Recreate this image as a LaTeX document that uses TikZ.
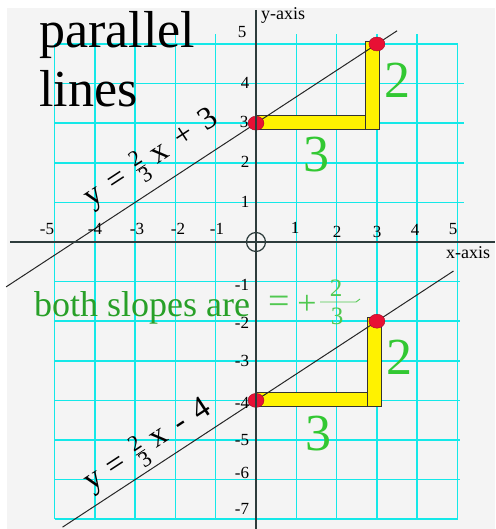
\documentclass[tikz,border=0pt]{standalone}
\usepackage{amsmath}
\usepackage{fontspec}
\setmainfont{Liberation Serif}
\usetikzlibrary{shapes.geometric}
\definecolor{bgray}{RGB}{244,244,244}
\definecolor{gridc}{RGB}{20,232,232}
\definecolor{axisc}{RGB}{45,60,60}
\definecolor{dotred}{RGB}{232,16,52}
\definecolor{slopegreen}{RGB}{40,160,40}
\definecolor{lightgreen}{RGB}{80,200,80}
\definecolor{biggreen}{RGB}{50,200,50}
\newcommand{\fs}[1]{\fontsize{#1}{#1}\selectfont}
\newcommand{\myfrac}[1]{$\genfrac{}{}{0.7pt}{}{\mbox{\fs{#1}2}}{\mbox{\fs{#1}3}}$}
\begin{document}
\begin{tikzpicture}[x=1pt,y=-1pt,
  gridl/.style={draw=gridc, line width=1.5pt},
  axisl/.style={draw=axisc, line width=1.4pt},
  graphl/.style={draw=black!85, line width=1pt},
  bar/.style={fill=yellow, draw=black!80, line width=0.6pt},
  reddot/.style={ellipse, fill=dotred, draw=dotred!70!black, line width=0.4pt, minimum width=16pt, minimum height=14pt, inner sep=0pt},
  num/.style={font=\fs{17}, inner sep=0pt},
  eqn/.style={rotate=33.2, font=\fs{32}, inner sep=0pt},
  biglbl/.style={font=\fs{52}, text=biggreen, inner sep=0pt},
  lg/.style={text=lightgreen, inner sep=0pt}]
\useasboundingbox (0,0) rectangle (495,529);
\fill[bgray] (7,8) rectangle (495,529);
\begin{scope}[shift={(256,242)},x=40.3pt,y=39.6pt]
  % grid
  \foreach \i in {-4,...,-1,1,2,3,4} \draw[gridl] (\i,-7) -- (\i,5.25);
  \draw[gridl] (-5,-7) -- (-5,5);
  \draw[gridl] (5,-7) -- (5,5);
  \foreach \j in {-7,5} \draw[gridl] (-5,\j) -- (5,\j);
  \foreach \j in {-6,...,-1} \draw[gridl] (-5,\j) -- (5.05,\j);
  \foreach \j in {1,2,3,4} \draw[gridl] (-5,\j) -- (5.15,\j);
  % yellow L shapes
  \draw[bar] (0,2.84) rectangle (3.05,3.2);
  \draw[bar] (2.7,2.84) rectangle (3.05,5.07);
  \draw[bar] (0,-4.16) rectangle (3.1,-3.8);
  \draw[bar] (2.75,-4.16) rectangle (3.1,-1.9);
  % graph lines
  \coordinate (a1) at (-6.2,-1.133);
  \coordinate (a2) at (3.5,5.333);
  \coordinate (b1) at (-4.8,-7.2);
  \coordinate (b2) at (4.9,-0.733);
  \draw[graphl] (a1) -- (a2);
  \draw[graphl] (b1) -- (b2);
  % dots
  \node[reddot] (p1) at (0,3) {};
  \node[reddot] (p2) at (3,5) {};
  \node[reddot] (p3) at (0,-4) {};
  \node[reddot] (p4) at (3,-2) {};
\end{scope}
% axes
\coordinate (xl) at (10,242);
\coordinate (xr) at (495,242);
\coordinate (yt) at (256,10);
\coordinate (yb) at (256,529);
\draw[axisl] (xl) -- (xr);
\draw[axisl] (yt) -- (yb);
\node[draw=axisc, line width=1.2pt, circle, minimum size=19pt, inner sep=0pt] (orig) at (256,242) {};
% axis labels
\node[font=\fs{18}, anchor=west, inner sep=0pt] (ylab) at (261,15) {y-axis};
\node[font=\fs{18}, anchor=west, inner sep=0pt] (xlab) at (446,253) {x-axis};
% x numbers
\foreach \v/\px/\py in {-5/47/229,-4/95/229,-3/137/229,-2/178/229,-1/217/229,1/295/228,2/337/232,3/377/232,4/415/230,5/453/229}
  \node[num] (xn\v) at (\px,\py) {\v};
% y numbers
\foreach \v/\px/\py in {5/242/32,4/245/83,3/244/122,2/245/162,1/245/202,-1/242/285,-2/242/323,-3/242/361,-4/242/403,-5/242/440,-6/242/473,-7/242/509}
  \node[num] (yn\v) at (\px,\py) {\v};
% titles
\node[font=\fs{52}, anchor=base west, inner sep=0pt] (t1) at (39,48) {parallel};
\node[font=\fs{52}, anchor=base west, inner sep=0pt] (t2) at (39,107) {lines};
% equations
\node[eqn] (eq1) at (152,159) {y\hspace{11pt}=\hspace{11pt}\myfrac{22}\hspace{9pt}x\hspace{13pt}+\hspace{12pt}3};
\node[eqn] (eq2) at (148,446) {y\hspace{11pt}=\hspace{11pt}\myfrac{22}\hspace{9pt}x\hspace{12pt}-\hspace{12pt}4};
% slopes text
\node[font=\fs{36}, text=slopegreen, anchor=base west, inner sep=0pt] (sl) at (34,316) {both slopes are};
\node[lg, font=\fs{38}] (seq) at (279,305) {=};
\node[lg, font=\fs{34}] (splus) at (307,305) {+};
\node[lg, font=\fs{25}] (snum) at (336,288) {2};
\node[lg, font=\fs{25}] (sden) at (337,316) {3};
\coordinate (sb1) at (320,302);
\coordinate (sb2) at (356,302);
\coordinate (sb3) at (360,299);
\draw[lightgreen, line width=0.9pt] (sb1) -- (sb2) -- (sb3);
% big labels
\node[biglbl] (r1) at (397,80) {2};
\node[biglbl] (r2) at (316,155) {3};
\node[biglbl] (r3) at (399,357) {2};
\node[biglbl] (r4) at (318,434) {3};
\end{tikzpicture}
\end{document}
